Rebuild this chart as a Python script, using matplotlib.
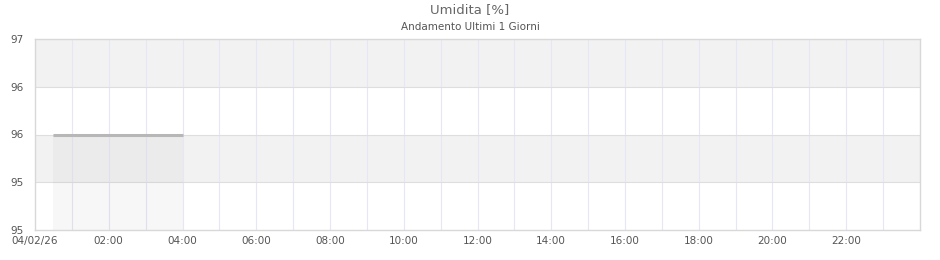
import matplotlib
matplotlib.use("Agg")
import matplotlib.pyplot as plt
import matplotlib.dates as mdates
from matplotlib.ticker import FuncFormatter
import pandas as pd

# humidity readings (only the first hours have data)
times = pd.to_datetime(["2026-02-04 00:30", "2026-02-04 01:00", "2026-02-04 02:00",
                        "2026-02-04 03:00", "2026-02-04 04:00"])
umidita = [96, 96, 96, 96, 96]

y_min, y_max = 95, 97
y_ticks = [95, 95.5, 96, 96.5, 97]
day_start = pd.Timestamp("2026-02-04 00:00")
day_end = pd.Timestamp("2026-02-05 00:00")

fig = plt.figure(figsize=(9.4, 2.6), dpi=100)
ax = fig.add_axes([35 / 940, 30 / 260, 885 / 940, 191 / 260])

# alternating horizontal bands
for i in range(len(y_ticks) - 1):
    if i % 2 == 1:
        ax.axhspan(y_ticks[i], y_ticks[i + 1], color="#f2f2f2", zorder=0, lw=0)

hours = pd.date_range(day_start, day_end, freq="h")
for h in hours[1:-1]:
    ax.axvline(h, color="#e6e6f7", lw=0.8, zorder=1)
for y in y_ticks[1:-1]:
    ax.axhline(y, color="#dedede", lw=0.8, zorder=1)

ax.fill_between(times, umidita, y_min, color="#999999", alpha=0.08, lw=0, zorder=2)
ax.plot(times, umidita, color="#b7b7b7", lw=2.2, zorder=3, solid_capstyle="butt")

ax.set_xlim(day_start, day_end)
ax.set_ylim(y_min, y_max)
ax.set_yticks(y_ticks)
ax.yaxis.set_major_formatter(FuncFormatter(lambda v, p: "%d" % int(v)))

xt = pd.date_range(day_start, pd.Timestamp("2026-02-04 22:00"), freq="2h")
ax.set_xticks(xt)
ax.set_xticklabels(["04/02/26"] + [t.strftime("%H:%M") for t in xt[1:]])

ax.tick_params(axis="both", length=0, labelsize=7.5, labelcolor="#555555", pad=4)
ax.tick_params(axis="y", pad=8)
for s in ax.spines.values():
    s.set_color("#d8d8d8")
    s.set_linewidth(1)

fig.text(0.5, 1 - 10 / 260, "Umidita [%]", ha="center", va="center", fontsize=9.5, color="#666666")
fig.text(0.5, 1 - 27 / 260, "Andamento Ultimi 1 Giorni", ha="center", va="center", fontsize=7.5, color="#555555")

fig.savefig("out.png", dpi=100)
